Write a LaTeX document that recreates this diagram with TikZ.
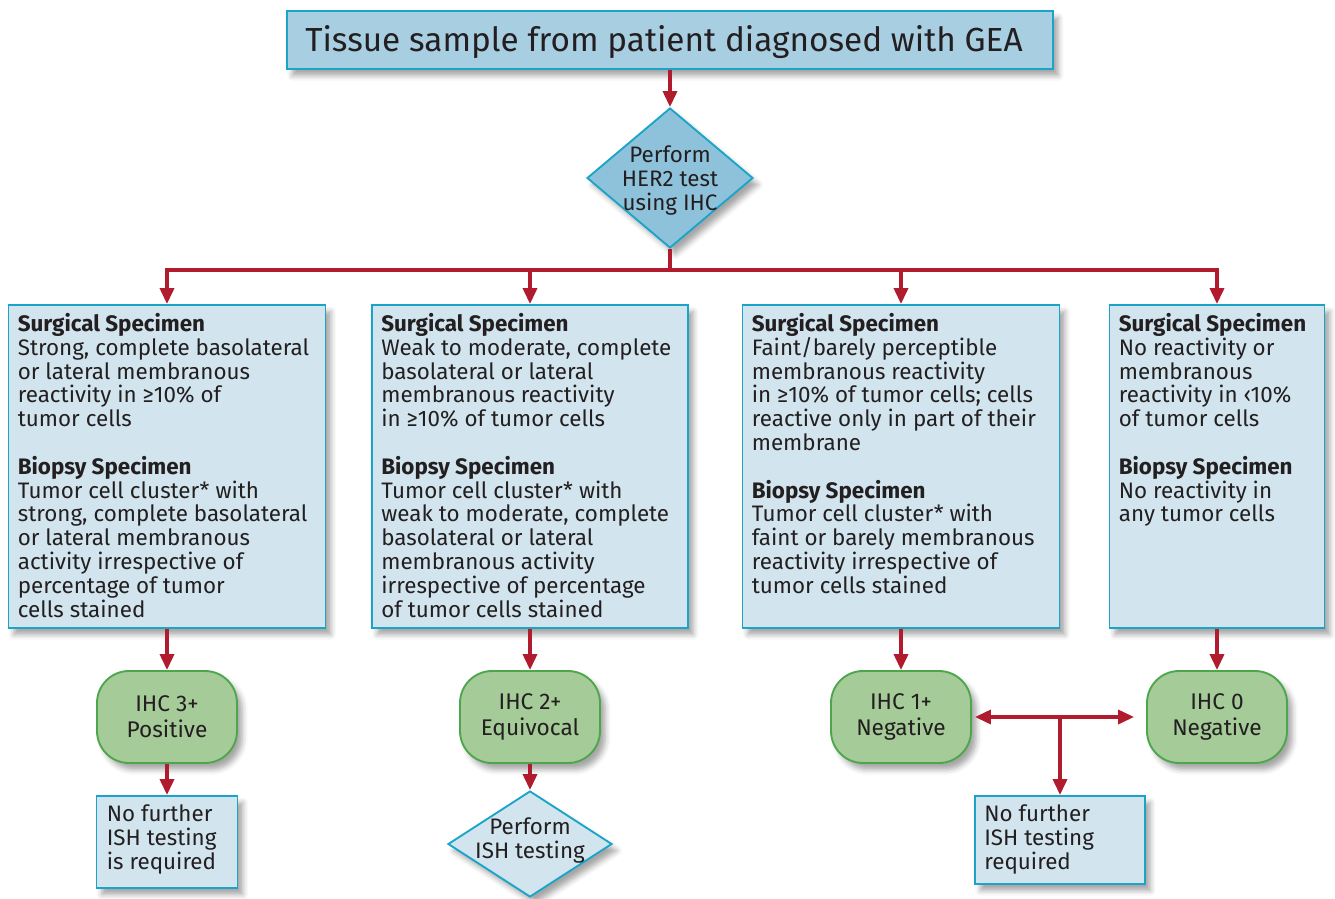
\documentclass[tikz,border=0pt]{standalone}
\usepackage{fontspec}
\setmainfont{Fira Sans}
\usetikzlibrary{arrows.meta,shapes.geometric,shadows.blur}
\newlength\pxu \setlength\pxu{0.75pt}
\definecolor{txt}{HTML}{231F20}
\definecolor{cyanline}{HTML}{1AA5C8}
\definecolor{topfill}{HTML}{A8CEE2}
\definecolor{diafill}{HTML}{8EC2DB}
\definecolor{boxfill}{HTML}{D2E5EF}
\definecolor{grfill}{HTML}{A5CB98}
\definecolor{grline}{HTML}{4DA64B}
\definecolor{arrred}{HTML}{B01C2E}
\begin{document}
\begin{tikzpicture}[x=0.75pt,y=-0.75pt,
  every node/.style={text=txt},
  shad/.style={blur shadow={shadow xshift=4pt,shadow yshift=-5pt,shadow blur radius=4pt,shadow opacity=35}},
  topbox/.style={draw=cyanline,line width=1.6pt,fill=topfill,shad,minimum width=766\pxu,minimum height=58\pxu,inner sep=0pt},
  dia/.style={diamond,draw=cyanline,line width=1.4pt,shad,inner sep=0pt},
  specbox/.style={draw=cyanline,line width=1.4pt,fill=boxfill,shad,minimum height=323\pxu,inner sep=0pt},
  bodytext/.style={font=\fontsize{16.8}{17.85}\selectfont,align=left,inner sep=0pt},
  ctrtext/.style={font=\fontsize{16.8}{18}\selectfont,align=center,inner sep=0pt},
  result/.style={draw=grline,line width=1.4pt,fill=grfill,shad,rounded corners=32\pxu,minimum width=140\pxu,minimum height=92\pxu,font=\fontsize{17}{19.5}\selectfont,align=center},
  conn/.style={draw=arrred,line width=2.6pt},
  arr/.style={conn,-{Triangle[length=12pt,width=10.5pt]}},
  darr/.style={conn,{Triangle[length=12pt,width=10.5pt]}-{Triangle[length=12pt,width=10.5pt]}}
]
\useasboundingbox (0,0) rectangle (1335,899);
% top
\node[topbox] (top) at (670,40) {};
\node[font=\fontsize{25}{30}\selectfont,inner sep=0pt] (toptext) at (664,42) {Tissue sample from patient diagnosed with GEA};
% diamond 1
\node[dia,fill=diafill,minimum width=166\pxu,minimum height=140\pxu] (d1) at (670,178) {};
\node[ctrtext] (d1t) at (670,180) {Perform\\HER2 test\\using IHC};
\coordinate (hub) at (670,270);
% spec boxes
\node[specbox,minimum width=317\pxu] (b1) at (167,466.5) {};
\node[specbox,minimum width=316\pxu] (b2) at (530,466.5) {};
\node[specbox,minimum width=317\pxu] (b3) at (901,466.5) {};
\node[specbox,minimum width=215\pxu] (b4) at (1217,466.5) {};
\node[bodytext,anchor=north west] (t1) at ([shift={(10,9)}]b1.north west) {\textbf{Surgical Specimen}\\Strong, complete basolateral\\or lateral membranous\\reactivity in ≥10\% of\\tumor cells\\[17.85pt]\textbf{Biopsy Specimen}\\Tumor cell cluster* with\\strong, complete basolateral\\or lateral membranous\\activity irrespective of\\percentage of tumor\\cells stained};
\node[bodytext,anchor=north west] (t2) at ([shift={(10,9)}]b2.north west) {\textbf{Surgical Specimen}\\Weak to moderate, complete\\basolateral or lateral\\membranous reactivity\\in ≥10\% of tumor cells\\[17.85pt]\textbf{Biopsy Specimen}\\Tumor cell cluster* with\\weak to moderate, complete\\basolateral or lateral\\membranous activity\\irrespective of percentage\\of tumor cells stained};
\node[bodytext,anchor=north west] (t3) at ([shift={(10,9)}]b3.north west) {\textbf{Surgical Specimen}\\Faint/barely perceptible\\membranous reactivity\\in ≥10\% of tumor cells; cells\\reactive only in part of their\\membrane\\[17.85pt]\textbf{Biopsy Specimen}\\Tumor cell cluster* with\\faint or barely membranous\\reactivity irrespective of\\tumor cells stained};
\node[bodytext,anchor=north west] (t4) at ([shift={(10,9)}]b4.north west) {\textbf{Surgical Specimen}\\No reactivity or\\membranous\\reactivity in ‹10\%\\of tumor cells\\[17.85pt]\textbf{Biopsy Specimen}\\No reactivity in\\any tumor cells};
% results
\node[result] (g1) at (167,717) {IHC 3+\\Positive};
\node[result] (g2) at (530,717) {IHC 2+\\Equivocal};
\node[result] (g3) at (901,717) {IHC 1+\\Negative};
\node[result] (g4) at (1217,717) {IHC 0\\Negative};
% bottom
\node[specbox,minimum width=141\pxu,minimum height=92\pxu] (n1) at (167,842) {};
\node[bodytext,anchor=north west,font=\fontsize{16.8}{18}\selectfont] (n1t) at ([shift={(11,9)}]n1.north west) {No further\\ISH testing\\is required};
\node[dia,fill=boxfill,minimum width=164\pxu,minimum height=106\pxu] (d2) at (530,844) {};
\node[ctrtext] (d2t) at (530,840) {Perform\\ISH testing};
\node[specbox,minimum width=170\pxu,minimum height=88\pxu] (n2) at (1060,840) {};
\node[bodytext,anchor=north west,font=\fontsize{16.8}{18}\selectfont] (n2t) at ([shift={(10,9)}]n2.north west) {No further\\ISH testing\\required};
\coordinate (jn) at (1060,717);
% connectors
\draw[arr] (top.south) -- (d1.north);
\draw[conn] (d1.south) -- (hub);
\draw[arr] (hub) -| (b1.north);
\draw[arr] (hub) -| (b2.north);
\draw[arr] (hub) -| (b3.north);
\draw[arr] (hub) -| (b4.north);
\draw[arr] (b1.south) -- (g1.north);
\draw[arr] (b2.south) -- (g2.north);
\draw[arr] (b3.south) -- (g3.north);
\draw[arr] (b4.south) -- (g4.north);
\draw[arr] (g1.south) -- (n1.north);
\draw[arr] (g2.south) -- (d2.north);
\draw[darr] ([xshift=3\pxu]g3.east) -- ([xshift=-12\pxu]g4.west);
\draw[arr] (jn) -- (n2.north);
\end{tikzpicture}
\end{document}
